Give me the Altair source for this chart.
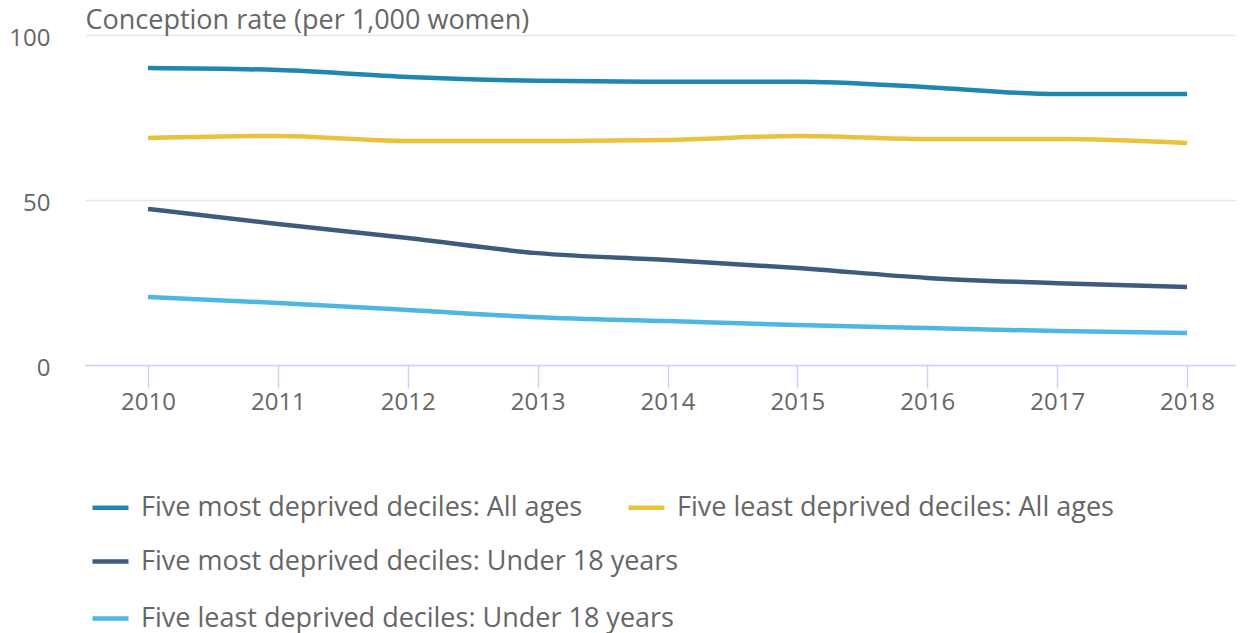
import altair as alt
import pandas as pd

years = [2010, 2011, 2012, 2013, 2014, 2015, 2016, 2017, 2018]
series_names = [
    "Five most deprived deciles: All ages",
    "Five least deprived deciles: All ages",
    "Five most deprived deciles: Under 18 years",
    "Five least deprived deciles: Under 18 years",
]
most_all = [90.0, 89.4, 87.3, 86.1, 85.8, 85.8, 84.2, 82.1, 82.1]
least_all = [68.8, 69.4, 67.9, 67.9, 68.2, 69.4, 68.5, 68.5, 67.3]
most_u18 = [47.3, 42.7, 38.5, 33.9, 31.8, 29.4, 26.4, 24.8, 23.6]
least_u18 = [20.6, 18.8, 16.7, 14.5, 13.3, 12.1, 11.2, 10.3, 9.7]
colors = ["#1f86ad", "#e8c33a", "#3c5c7d", "#4cb8e1"]
y_ticks = [0, 50, 100]

rows = []
for name, vals in zip(series_names, [most_all, least_all, most_u18, least_u18]):
    for yr, v in zip(years, vals):
        rows.append({"year": yr, "rate": v, "series": name})
df = pd.DataFrame(rows)

FONT = "Open Sans"
GREY = "#666666"

x_enc = alt.X(
    "year:Q",
    scale=alt.Scale(domain=[2009.515, 2018.377], nice=False, zero=False),
    axis=alt.Axis(
        values=years, format="d", title=None, grid=False,
        tickSize=23, tickColor="#ccd6eb", tickWidth=1.5,
        domainColor="#ccd6eb", domainWidth=1.5,
        labelFontSize=24, labelColor=GREY, labelFont=FONT,
        labelPadding=2, labelFlush=False,
    ),
)
y_enc = alt.Y(
    "rate:Q",
    scale=alt.Scale(domain=[0, 100], nice=False),
    axis=alt.Axis(
        values=y_ticks, domain=False, ticks=False,
        grid=True, gridColor="#e6e6e6", gridWidth=1.5,
        labelFontSize=24, labelColor=GREY, labelFont=FONT,
        labelPadding=35, labelOffset=3,
        title="Conception rate (per 1,000 women)",
        titleAngle=0, titleAlign="left", titleBaseline="alphabetic",
        titleX=0, titleY=-7, titleFontSize=27, titleFontWeight="normal",
        titleColor=GREY, titleFont=FONT,
    ),
)

common_legend = dict(
    orient="none", title=None,
    symbolType="stroke", symbolSize=1296, symbolStrokeWidth=4.5,
    labelFontSize=27, labelColor=GREY, labelFont=FONT, labelOffset=10,
    labelLimit=800,
)

all_ages = alt.Chart(df).transform_filter(
    alt.FieldOneOfPredicate(field="series", oneOf=series_names[:2])
).mark_line(strokeWidth=4.5, interpolate="monotone").encode(
    x=x_enc, y=y_enc,
    color=alt.Color(
        "series:N",
        scale=alt.Scale(domain=series_names[:2], range=colors[:2]),
        legend=alt.Legend(direction="horizontal", columns=2, columnPadding=36,
                          legendX=5, legendY=452, **common_legend),
    ),
)

under18 = alt.Chart(df).transform_filter(
    alt.FieldOneOfPredicate(field="series", oneOf=series_names[2:])
).mark_line(strokeWidth=4.5, interpolate="monotone").encode(
    x=x_enc, y=y_enc,
    color=alt.Color(
        "series:N",
        scale=alt.Scale(domain=series_names[2:], range=colors[2:]),
        legend=alt.Legend(direction="vertical", rowPadding=23,
                          legendX=5, legendY=506, **common_legend),
    ),
)

chart = alt.layer(all_ages, under18).resolve_scale(color="independent").properties(
    width=1151, height=330,
    autosize=alt.AutoSizeParams(type="none"),
    padding={"left": 77, "top": 27, "right": 0, "bottom": 268},
    background="white",
).configure_view(stroke="transparent", strokeWidth=0)

chart.save("out.html", embed_options={"renderer": "svg", "actions": False})
